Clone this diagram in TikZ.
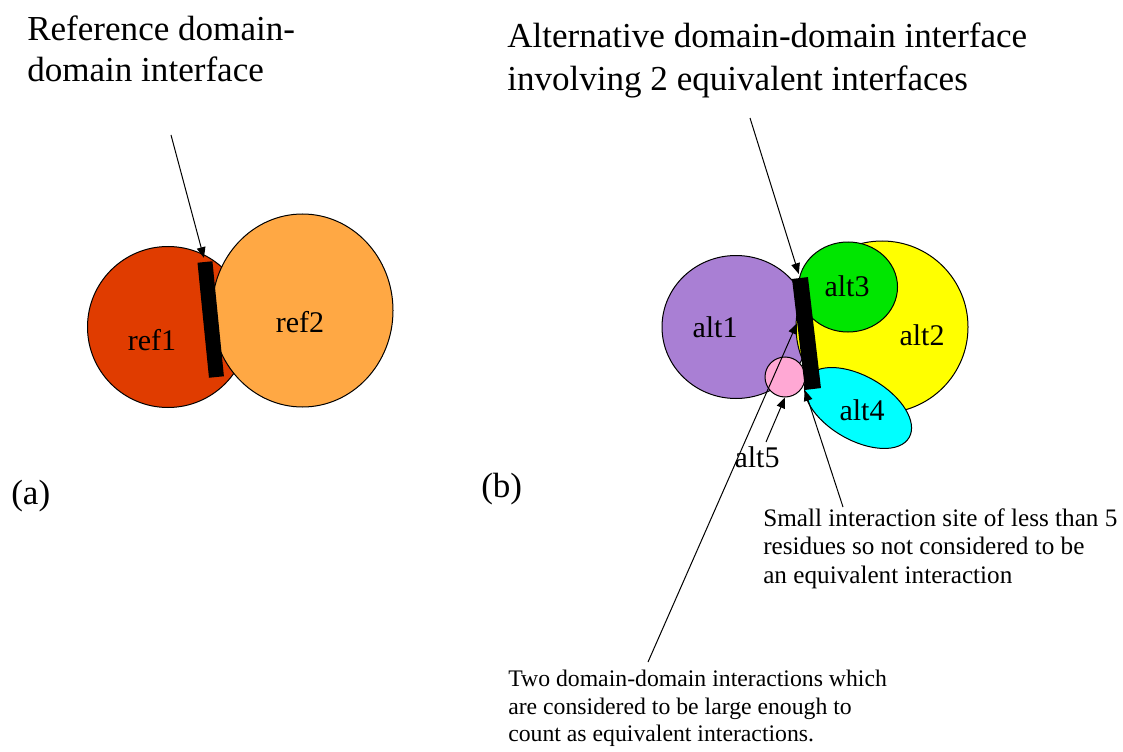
\documentclass[tikz,border=0pt]{standalone}
\usepackage{fontspec}
\setmainfont{Liberation Serif}
\usetikzlibrary{shapes.geometric,arrows.meta,calc}
\definecolor{refone}{RGB}{224,60,0}
\definecolor{reftwo}{RGB}{255,168,68}
\definecolor{altone}{RGB}{169,127,212}
\definecolor{alttwo}{RGB}{255,255,0}
\definecolor{altthree}{RGB}{0,230,0}
\definecolor{altfour}{RGB}{0,255,255}
\definecolor{altfive}{RGB}{255,168,212}
\begin{document}
\begin{tikzpicture}[x=0.75pt,y=-0.75pt,
  dom/.style={ellipse,draw=black,line width=0.75pt,inner sep=0pt},
  bar/.style={rectangle,fill=black,inner sep=0pt},
  arr/.style={-{Triangle[length=8pt,width=6.5pt]},line width=0.75pt},
  big/.style={font=\fontsize{26.3}{30.5}\selectfont,inner sep=0pt,align=left,anchor=north west},
  bigalt/.style={font=\fontsize{26.3}{32.25}\selectfont,inner sep=0pt,align=left,anchor=north west},
  lab/.style={font=\fontsize{22.5}{27}\selectfont,inner sep=0pt},
  small/.style={font=\fontsize{18.9}{21.4}\selectfont,inner sep=0pt,align=left,anchor=north west},
  smaller/.style={font=\fontsize{17.8}{20.6}\selectfont,inner sep=0pt,align=left,anchor=north west}]
\useasboundingbox (0,0) rectangle (1123,752);
% titles
\node[big] (tref) at (27,15.5) {Reference domain-\\domain interface};
\node[bigalt] (talt) at (507,22.7) {Alternative domain-domain interface\\involving 2 equivalent interfaces};
\node[big] (lbla) at (11,480) {(a)};
\node[big] (lblb) at (481,473) {(b)};
% reference
\node[dom,fill=refone,minimum width=120.75pt,minimum height=120.75pt] (ref1) at (168,327) {};
\node[dom,fill=reftwo,minimum width=135.75pt,minimum height=144.75pt] (ref2) at (302.5,310.5) {};
\node[bar,minimum width=11.25pt,minimum height=86.7pt,rotate=5.7] (barL) at (210.7,319.5) {};
\node[lab] (ref1lbl) at (152,340) {ref1};
\node[lab] (ref2lbl) at (300,322) {ref2};
\coordinate (refsrc) at (171,135);
\draw[arr,shorten >=3pt] (refsrc) -- (barL.north);
% alternative
\node[dom,fill=altone,minimum width=111pt,minimum height=107.25pt] (alt1) at (736,327) {};
\node[dom,fill=alttwo,minimum size=129pt] (alt2) at (882,327) {};
\node[dom,fill=altthree,minimum width=74.25pt,minimum height=67.5pt] (alt3) at (848,287) {};
\node[dom,fill=altfour,minimum width=88.5pt,minimum height=48pt,rotate=-30] (alt4) at (858,408) {};
\node[dom,fill=altfive,minimum size=30pt] (alt5) at (785,377) {};
\node[bar,minimum width=12pt,minimum height=83.8pt,rotate=6.7] (barR) at (806.5,333.5) {};
\node[lab] (alt1lbl) at (715,327) {alt1};
\node[lab] (alt2lbl) at (922,335) {alt2};
\node[lab] (alt3lbl) at (847,286) {alt3};
\node[lab] (alt4lbl) at (862,410) {alt4};
\node[lab] (alt5lbl) at (757,457) {alt5};
\node[small] (smalltxt) at (763,508) {Small interaction site of less than 5\\residues so not considered to be\\an equivalent interaction};
\node[smaller] (twotxt) at (508,670) {Two domain-domain interactions which\\are considered to be large enough to\\count as equivalent interactions.};
\coordinate (altsrc) at (750,118);
\coordinate (twosrc) at (648,662);
\coordinate (smallsrc) at (843,507);
\coordinate (a5src) at (766,442);
\draw[arr,shorten >=3pt] (altsrc) -- (barR.north);
\draw[arr] (twosrc) -- ($(barR.north west)!0.4!(barR.south west)$);
\draw[arr] (smallsrc) -- (barR.south west);
\draw[arr] (a5src) -- (alt5.south);
\end{tikzpicture}
\end{document}
